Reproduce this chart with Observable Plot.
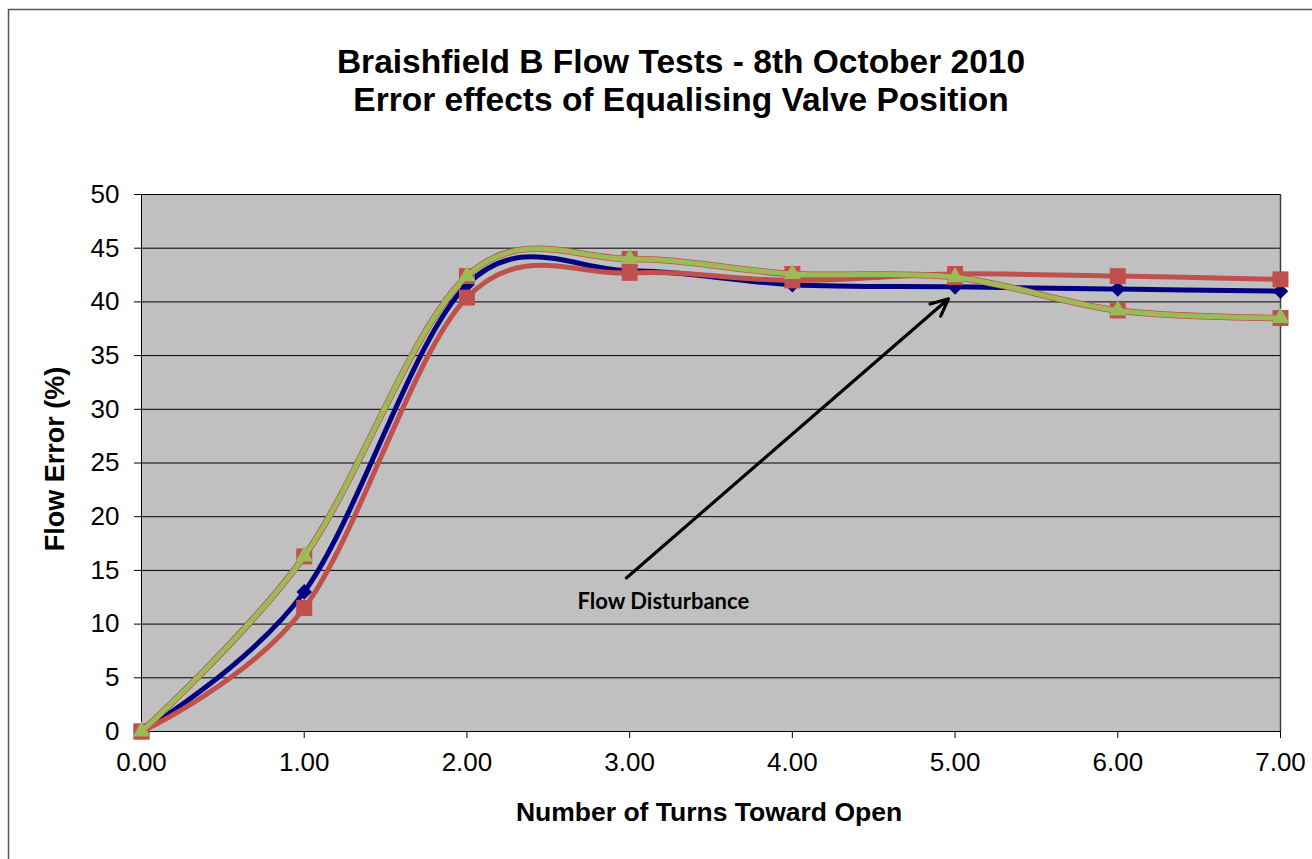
<!DOCTYPE html>
<html>
<head>
<meta charset="utf-8">
<script src="https://cdn.jsdelivr.net/npm/d3@7"></script>
<script src="https://cdn.jsdelivr.net/npm/@observablehq/plot@0.6"></script>
<style>
  html, body { margin: 0; padding: 0; background: white; }
  #chart { width: 1312px; height: 859px; overflow: hidden; }
</style>
</head>
<body>
<div id="chart"></div>
<script>
// ---- data ----
const turns = [0, 1, 2, 3, 4, 5, 6, 7];
const seriesBlue = [0, 13.0, 41.6, 42.9, 41.6, 41.4, 41.2, 41.0];
const seriesRed = [0, 11.5, 40.4, 42.7, 42.0, 42.6, 42.4, 42.1];
const seriesGreen = [0, 16.3, 42.4, 44.0, 42.6, 42.3, 39.2, 38.5];
const yTicks = [0, 5, 10, 15, 20, 25, 30, 35, 40, 45, 50];
const titleLines = ["Braishfield B Flow Tests - 8th October 2010", "Error effects of Equalising Valve Position"];
const xLabel = "Number of Turns Toward Open";
const yLabel = "Flow Error (%)";
const annotation = [{text: "Flow Disturbance", tx: 2.68, ty: 12.1, x1: 2.98, y1: 14.3, x2: 4.96, y2: 40.3}];

const toRows = (vals) => turns.map((t, i) => ({x: t, y: vals[i]}));
const blue = toRows(seriesBlue);
const red = toRows(seriesRed);
const green = toRows(seriesGreen);

const cBlue = "#000080", cRed = "#C0504D", cGreen = "#9BBB59";

const chart = Plot.plot({
  width: 1312,
  height: 859,
  marginLeft: 141,
  marginRight: 32,
  marginTop: 194,
  marginBottom: 128,
  x: {domain: [0, 7]},
  y: {domain: [0, 50]},
  style: {fontFamily: "'Liberation Sans', Arial, sans-serif", color: "black", background: "white"},
  marks: [
    Plot.frame({fill: "#C0C0C0", stroke: "none"}),
    Plot.gridY(yTicks.slice(1), {stroke: "black", strokeOpacity: 1, strokeWidth: 1}),
    Plot.ruleX([7], {stroke: "#404040", strokeWidth: 1.5}),
    Plot.ruleX([0], {stroke: "black"}),
    Plot.ruleY([0], {stroke: "black"}),
    Plot.axisY({ticks: yTicks, tickSize: 7, tickPadding: 15, fontSize: 26, label: null, tickFormat: d => String(d)}),
    Plot.axisX({ticks: turns, tickSize: 7, tickPadding: 14, fontSize: 26, label: null, tickFormat: d3.format(".2f")}),
    // series lines & markers
    Plot.line(blue, {x: "x", y: "y", stroke: cBlue, strokeWidth: 5, curve: "cardinal"}),
    Plot.dot(blue, {x: "x", y: "y", symbol: "diamond2", r: 7, fill: cBlue}),
    Plot.line(red, {x: "x", y: "y", stroke: cRed, strokeWidth: 5, curve: "cardinal"}),
    Plot.dot(red, {x: "x", y: "y", symbol: "square", r: 9, fill: cRed}),
    Plot.line(green, {x: "x", y: "y", stroke: cRed, strokeWidth: 6.5, curve: "cardinal"}),
    Plot.dot(green, {x: "x", y: "y", symbol: "square", r: 9, fill: cRed}),
    Plot.line(green, {x: "x", y: "y", stroke: cGreen, strokeWidth: 5, curve: "cardinal"}),
    Plot.dot(green, {x: "x", y: "y", symbol: "triangle", r: 6.5, fill: cGreen}),
    // annotation
    Plot.arrow(annotation, {x1: "x1", y1: "y1", x2: "x2", y2: "y2", stroke: "black", strokeWidth: 3.2, headLength: 9, headAngle: 50}),
    Plot.text(annotation, {x: "tx", y: "ty", text: "text", textAnchor: "start", lineAnchor: "middle", fontSize: 22, fontWeight: "bold", fontFamily: "Lato, 'Open Sans', sans-serif"}),
    // titles
    Plot.text([titleLines[0]], {text: d => d, frameAnchor: "top", dx: -30, dy: -132, lineAnchor: "middle", fontSize: 33.5, fontWeight: "bold"}),
    Plot.text([titleLines[1]], {text: d => d, frameAnchor: "top", dx: -30, dy: -94, lineAnchor: "middle", fontSize: 33.5, fontWeight: "bold"}),
    Plot.text([xLabel], {text: d => d, frameAnchor: "bottom", dx: -2, dy: 81, lineAnchor: "middle", fontSize: 26.5, fontWeight: "bold"}),
    Plot.text([yLabel], {text: d => d, frameAnchor: "left", textAnchor: "middle", dx: -86, dy: -4, rotate: -90, lineAnchor: "middle", fontSize: 27, fontWeight: "bold"})
  ]
});

d3.select(chart).append("rect")
  .attr("x", 8.5).attr("y", 9.5)
  .attr("width", 1400).attr("height", 900)
  .attr("fill", "none").attr("stroke", "#555").attr("stroke-width", 1.5);

document.getElementById("chart").appendChild(chart);
</script>
</body>
</html>
